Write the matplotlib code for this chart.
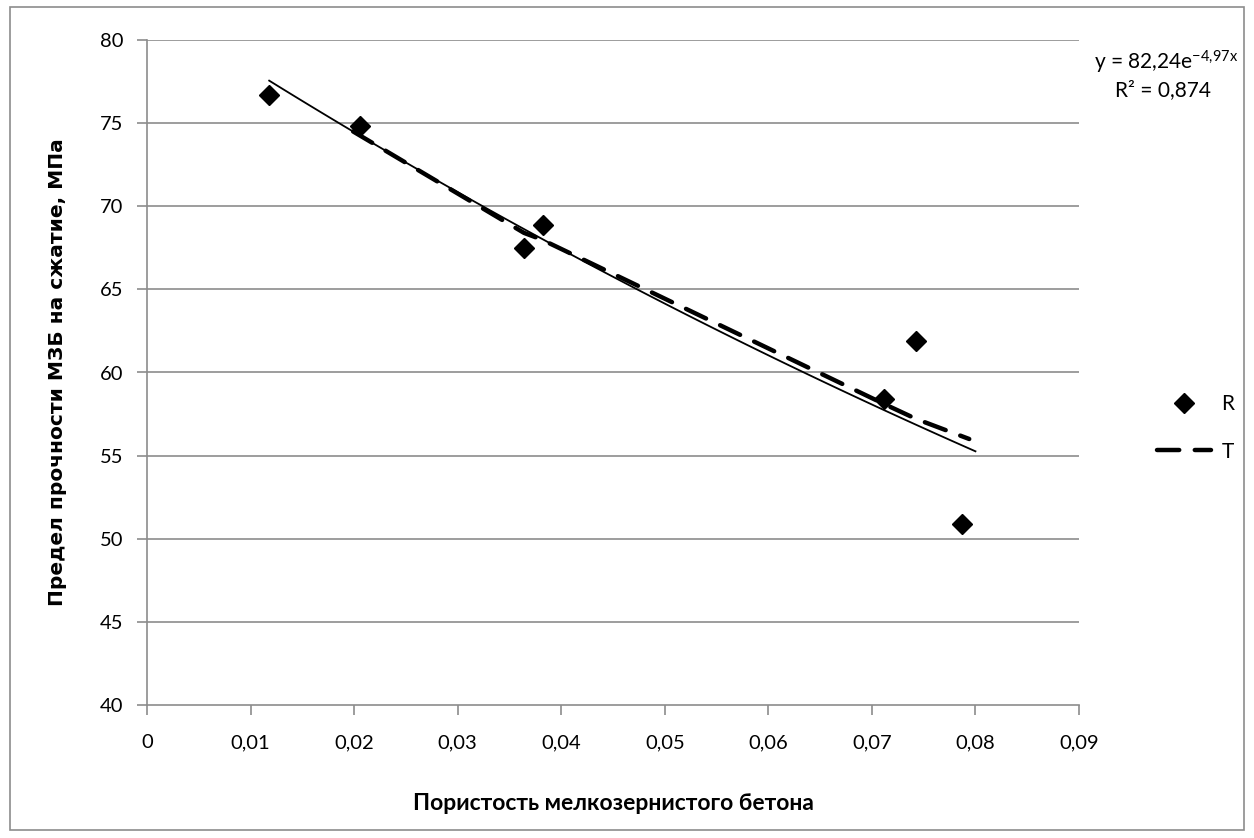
import numpy as np
import matplotlib.pyplot as plt
from matplotlib.lines import Line2D
from matplotlib.patches import Rectangle

plt.rcParams['font.family'] = ['Lato', 'DejaVu Sans']
plt.rcParams['mathtext.fontset'] = 'custom'
plt.rcParams['mathtext.rm'] = 'Lato'
plt.rcParams['mathtext.it'] = 'Lato'

# measured points (R)
r_x = [0.0118, 0.0206, 0.0364, 0.0382, 0.0712, 0.0743, 0.0787]
r_y = [76.7, 74.8, 67.5, 68.9, 58.4, 61.9, 50.9]
# theoretical curve (T)
t_x = [0.0199, 0.0364, 0.0381, 0.0712, 0.0743, 0.0794]
t_y = [74.5, 68.4, 68.0, 58.1, 57.2, 56.0]
# exponential trendline shown on chart
coef_a = 82.24
coef_b = -4.97
trend_range = (0.0118, 0.080)

xticks = [0, 0.01, 0.02, 0.03, 0.04, 0.05, 0.06, 0.07, 0.08, 0.09]
yticks = [40, 45, 50, 55, 60, 65, 70, 75, 80]

fig = plt.figure(figsize=(12.54, 8.38), dpi=100)
fig.patches.append(Rectangle((0.008, 0.009), 0.984, 0.983, transform=fig.transFigure,
                             fill=False, edgecolor='#8c8c8c', linewidth=1.2))
ax = fig.add_axes([147 / 1254, 1 - 705 / 838, 932 / 1254, 665 / 838])

gray = '#8c8c8c'
for v in yticks[1:]:
    ax.axhline(v, color=gray, linewidth=1.2, zorder=0)

tx = np.linspace(trend_range[0], trend_range[1], 100)
ax.plot(tx, coef_a * np.exp(coef_b * tx), color='black', linewidth=1.3, zorder=2)
ax.plot(t_x, t_y, color='black', linewidth=3.2, dashes=(5, 3.5), dash_capstyle='round', zorder=3)
ax.plot(r_x, r_y, linestyle='none', marker='D', markersize=10.5, color='black', zorder=4)

ax.set_xlim(0, 0.09)
ax.set_ylim(40, 80)
ax.set_xticks(xticks)
ax.set_yticks(yticks)
ax.set_xticklabels([('%g' % v).replace('.', ',') for v in xticks])
ax.set_yticklabels([str(v) for v in yticks])
ax.tick_params(axis='both', colors=gray, labelcolor='black', labelsize=14.5, length=7, width=1.2, direction='out')
ax.tick_params(axis='x', pad=14)
ax.tick_params(axis='y', pad=10)
for s in ['top', 'right']:
    ax.spines[s].set_visible(False)
for s in ['left', 'bottom']:
    ax.spines[s].set_color(gray)
    ax.spines[s].set_linewidth(1.2)

ax.set_xlabel('Пористость мелкозернистого бетона', fontsize=16.5, fontweight='bold', labelpad=30)
ax.set_ylabel('Предел прочности МЗБ на сжатие, МПа', fontsize=14.5, fontweight='bold', labelpad=24,
              family='DejaVu Sans')

fig.text(1166 / 1254, 1 - 62 / 838, 'y = 82,24e$^{-4{,}97x}$', fontsize=15, ha='center', va='center')
fig.text(1163 / 1254, 1 - 90 / 838, 'R² = 0,874', fontsize=15, ha='center', va='center')

handles = [Line2D([], [], linestyle='none', marker='D', markersize=10.5, color='black'),
           Line2D([], [], color='black', linewidth=3.2, dashes=(5, 3.5), dash_capstyle='round')]
fig.legend(handles, ['R', 'T'], loc='center left', bbox_to_anchor=(1138 / 1254, 1 - 428 / 838),
           frameon=False, fontsize=15, handlelength=2.6, labelspacing=1.3, handletextpad=0.5)

fig.savefig('out.png', dpi=100)
